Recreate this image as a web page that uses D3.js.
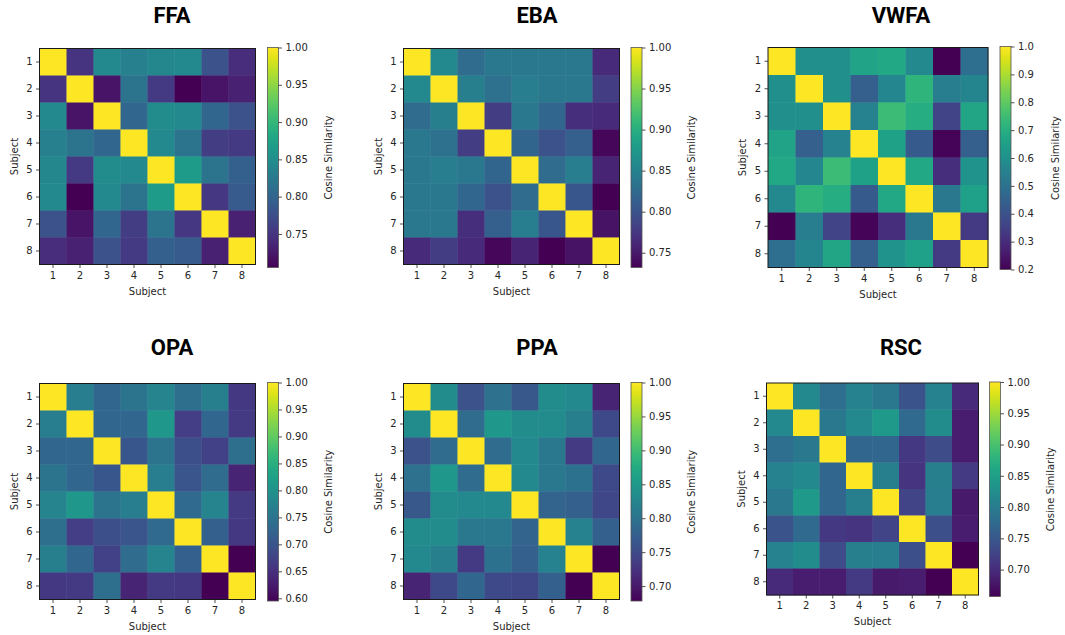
<html>

<head>
    <title>Cosine Similarity per ROI</title>
    <style>
        body { margin: 0; background: #ffffff; }
    </style>
</head>

<body>
    <div id="my_dataviz"></div>
</body>

<!-- Load d3.js -->
<script src="https://d3js.org/d3.v7.min.js"></script>

<script>

    // subjects on both axes
    var subjects = ["1", "2", "3", "4", "5", "6", "7", "8"];

    // region names (one panel each)
    var regions = ["FFA", "EBA", "VWFA", "OPA", "PPA", "RSC"];

    // similarity matrices
    var ffaValues = [
        [1.000, 0.749, 0.844, 0.832, 0.841, 0.844, 0.779, 0.743],
        [0.749, 1.000, 0.720, 0.817, 0.755, 0.705, 0.720, 0.732],
        [0.844, 0.720, 1.000, 0.802, 0.847, 0.844, 0.802, 0.779],
        [0.832, 0.817, 0.802, 1.000, 0.844, 0.817, 0.758, 0.755],
        [0.841, 0.755, 0.847, 0.844, 1.000, 0.867, 0.817, 0.794],
        [0.844, 0.705, 0.844, 0.817, 0.867, 1.000, 0.752, 0.788],
        [0.779, 0.720, 0.802, 0.758, 0.817, 0.752, 1.000, 0.732],
        [0.743, 0.732, 0.779, 0.755, 0.794, 0.788, 0.732, 1.000]
    ];
    var ebaValues = [
        [1.000, 0.858, 0.826, 0.839, 0.839, 0.839, 0.839, 0.764],
        [0.858, 1.000, 0.847, 0.831, 0.845, 0.839, 0.839, 0.780],
        [0.826, 0.847, 1.000, 0.780, 0.839, 0.820, 0.767, 0.764],
        [0.839, 0.831, 0.780, 1.000, 0.818, 0.799, 0.812, 0.737],
        [0.839, 0.845, 0.839, 0.818, 1.000, 0.826, 0.845, 0.759],
        [0.839, 0.839, 0.820, 0.799, 0.826, 1.000, 0.804, 0.732],
        [0.839, 0.839, 0.767, 0.812, 0.845, 0.804, 1.000, 0.745],
        [0.764, 0.780, 0.764, 0.737, 0.759, 0.732, 0.745, 1.000]
    ];
    var vwfaValues = [
        [1.000, 0.600, 0.600, 0.664, 0.680, 0.576, 0.200, 0.485],
        [0.600, 1.000, 0.600, 0.440, 0.568, 0.720, 0.536, 0.565],
        [0.600, 0.600, 1.000, 0.552, 0.744, 0.696, 0.360, 0.670],
        [0.664, 0.440, 0.552, 1.000, 0.656, 0.424, 0.208, 0.440],
        [0.680, 0.568, 0.744, 0.656, 1.000, 0.680, 0.304, 0.610],
        [0.576, 0.720, 0.696, 0.424, 0.680, 1.000, 0.520, 0.650],
        [0.200, 0.536, 0.360, 0.208, 0.304, 0.520, 1.000, 0.336],
        [0.485, 0.565, 0.670, 0.440, 0.610, 0.650, 0.336, 1.000]
    ];
    var opaValues = [
        [1.000, 0.765, 0.729, 0.749, 0.777, 0.741, 0.769, 0.660],
        [0.765, 1.000, 0.729, 0.729, 0.810, 0.668, 0.729, 0.664],
        [0.729, 0.729, 1.000, 0.704, 0.749, 0.692, 0.672, 0.741],
        [0.749, 0.729, 0.704, 1.000, 0.765, 0.700, 0.737, 0.635],
        [0.777, 0.810, 0.749, 0.765, 1.000, 0.733, 0.777, 0.664],
        [0.741, 0.668, 0.692, 0.700, 0.733, 1.000, 0.717, 0.660],
        [0.769, 0.729, 0.672, 0.737, 0.777, 0.717, 1.000, 0.595],
        [0.660, 0.664, 0.741, 0.635, 0.664, 0.660, 0.595, 1.000]
    ];
    var ppaValues = [
        [1.000, 0.833, 0.759, 0.797, 0.765, 0.833, 0.829, 0.710],
        [0.833, 1.000, 0.791, 0.849, 0.833, 0.833, 0.816, 0.749],
        [0.759, 0.791, 1.000, 0.791, 0.829, 0.807, 0.733, 0.784],
        [0.797, 0.849, 0.791, 1.000, 0.829, 0.807, 0.800, 0.749],
        [0.765, 0.833, 0.829, 0.829, 1.000, 0.781, 0.775, 0.746],
        [0.833, 0.833, 0.807, 0.807, 0.781, 1.000, 0.820, 0.775],
        [0.829, 0.816, 0.733, 0.800, 0.775, 0.820, 1.000, 0.678],
        [0.710, 0.749, 0.784, 0.749, 0.746, 0.775, 0.678, 1.000]
    ];
    var rscValues = [
        [1.000, 0.818, 0.780, 0.808, 0.794, 0.745, 0.808, 0.698],
        [0.818, 1.000, 0.794, 0.818, 0.842, 0.774, 0.822, 0.684],
        [0.780, 0.794, 1.000, 0.770, 0.770, 0.712, 0.736, 0.684],
        [0.808, 0.818, 0.770, 1.000, 0.804, 0.708, 0.804, 0.715],
        [0.794, 0.842, 0.770, 0.804, 1.000, 0.726, 0.801, 0.681],
        [0.745, 0.774, 0.712, 0.708, 0.726, 1.000, 0.739, 0.684],
        [0.808, 0.822, 0.736, 0.804, 0.801, 0.739, 1.000, 0.657],
        [0.698, 0.684, 0.684, 0.715, 0.681, 0.684, 0.657, 1.000]
    ];

    // colorbar tick values
    var ffaTicks = [0.75, 0.80, 0.85, 0.90, 0.95, 1.00];
    var ebaTicks = [0.75, 0.80, 0.85, 0.90, 0.95, 1.00];
    var vwfaTicks = [0.2, 0.3, 0.4, 0.5, 0.6, 0.7, 0.8, 0.9, 1.0];
    var opaTicks = [0.60, 0.65, 0.70, 0.75, 0.80, 0.85, 0.90, 0.95, 1.00];
    var ppaTicks = [0.70, 0.75, 0.80, 0.85, 0.90, 0.95, 1.00];
    var rscTicks = [0.70, 0.75, 0.80, 0.85, 0.90, 0.95, 1.00];

    var allValues = [ffaValues, ebaValues, vwfaValues, opaValues, ppaValues, rscValues];
    var allTicks = [ffaTicks, ebaTicks, vwfaTicks, opaTicks, ppaTicks, rscTicks];
    var tickFormats = [".2f", ".2f", ".1f", ".2f", ".2f", ".2f"];

    // where each panel sits on the page
    var layout = [
        { x: 39.5, y: 48.5, size: 216, cbX: 267.5, cbTop: 47.5, cbBottom: 267.5, titleX: 172, titleY: 23 },
        { x: 403.5, y: 48.5, size: 216, cbX: 631, cbTop: 47.5, cbBottom: 267.5, titleX: 537, titleY: 23 },
        { x: 768, y: 47.5, size: 220, cbX: 1000, cbTop: 46.5, cbBottom: 269.5, titleX: 901, titleY: 23 },
        { x: 39.5, y: 383.5, size: 216, cbX: 267.5, cbTop: 382.5, cbBottom: 601, titleX: 172, titleY: 355 },
        { x: 403.5, y: 383.5, size: 216, cbX: 631, cbTop: 382.5, cbBottom: 601, titleX: 537, titleY: 355 },
        { x: 766.5, y: 383, size: 212, cbX: 989.5, cbTop: 382, cbBottom: 596.5, titleX: 901, titleY: 355 }
    ];
    var cbWidth = 11;
    var textColor = "#262626";
    var tickFont = "'DejaVu Sans', sans-serif";

    var svg = d3.select("#my_dataviz")
        .append("svg")
        .attr("width", 1065)
        .attr("height", 635)
        .style("display", "block");

    // shared viridis gradient for the colorbars
    var defs = svg.append("defs");
    var grad = defs.append("linearGradient")
        .attr("id", "viridisGrad")
        .attr("x1", "0%").attr("y1", "100%")
        .attr("x2", "0%").attr("y2", "0%");
    d3.range(0, 1.0001, 0.05).forEach(function (t) {
        grad.append("stop")
            .attr("offset", (t * 100) + "%")
            .attr("stop-color", d3.interpolateViridis(t));
    });

    regions.forEach(function (name, i) {
        var values = allValues[i];
        var L = layout[i];
        var vmin = d3.min(values, function (row) { return d3.min(row); });

        var color = d3.scaleSequential(d3.interpolateViridis).domain([vmin, 1]);

        var x = d3.scaleBand().domain(subjects).range([0, L.size]);
        var y = d3.scaleBand().domain(subjects).range([0, L.size]);

        var g = svg.append("g")
            .attr("transform", "translate(" + L.x + "," + L.y + ")");

        // cells
        var cells = [];
        values.forEach(function (row, r) {
            row.forEach(function (v, c) {
                cells.push({ row: subjects[r], col: subjects[c], value: v });
            });
        });
        g.append("g")
            .selectAll("rect")
            .data(cells)
            .enter()
            .append("rect")
            .attr("x", function (d) { return x(d.col); })
            .attr("y", function (d) { return y(d.row); })
            .attr("width", x.bandwidth() + 0.4)
            .attr("height", y.bandwidth() + 0.4)
            .attr("fill", function (d) { return color(d.value); });

        // frame
        g.append("rect")
            .attr("width", L.size)
            .attr("height", L.size)
            .attr("fill", "none")
            .attr("stroke", "#1a1a1a")
            .attr("stroke-width", 1);

        // axes
        var xAxis = g.append("g")
            .attr("transform", "translate(0," + L.size + ")")
            .call(d3.axisBottom(x).tickSize(3.5).tickPadding(3.5));
        var yAxis = g.append("g")
            .call(d3.axisLeft(y).tickSize(3.5).tickPadding(3.5));
        [xAxis, yAxis].forEach(function (a) {
            a.select(".domain").remove();
            a.selectAll("line").attr("stroke", textColor).attr("stroke-width", 0.8);
            a.selectAll("text")
                .attr("fill", textColor)
                .style("font-family", tickFont)
                .style("font-size", "10px");
        });

        // axis labels
        g.append("text")
            .attr("x", L.size / 2)
            .attr("y", L.size + 30)
            .attr("text-anchor", "middle")
            .attr("fill", textColor)
            .style("font-family", tickFont)
            .style("font-size", "10px")
            .text("Subject");
        g.append("text")
            .attr("transform", "rotate(-90)")
            .attr("x", -L.size / 2)
            .attr("y", -22)
            .attr("text-anchor", "middle")
            .attr("fill", textColor)
            .style("font-family", tickFont)
            .style("font-size", "10px")
            .text("Subject");

        // colorbar
        var cb = svg.append("g")
            .attr("transform", "translate(" + L.cbX + ",0)");
        cb.append("rect")
            .attr("x", 0)
            .attr("y", L.cbTop)
            .attr("width", cbWidth)
            .attr("height", L.cbBottom - L.cbTop)
            .attr("fill", "url(#viridisGrad)")
            .attr("stroke", "#555")
            .attr("stroke-width", 0.8);

        var cbScale = d3.scaleLinear().domain([vmin, 1]).range([L.cbBottom, L.cbTop]);
        var cbAxis = cb.append("g")
            .attr("transform", "translate(" + cbWidth + ",0)")
            .call(d3.axisRight(cbScale)
                .tickValues(allTicks[i])
                .tickFormat(d3.format(tickFormats[i]))
                .tickSize(3.5)
                .tickPadding(3.5));
        cbAxis.select(".domain").remove();
        cbAxis.selectAll("line").attr("stroke", textColor).attr("stroke-width", 0.8);
        cbAxis.selectAll("text")
            .attr("fill", textColor)
            .style("font-family", tickFont)
            .style("font-size", "10px");

        // label sits closer when the tick labels are shorter
        var labelGap = tickFormats[i] == ".1f" ? 48 : 53;
        cb.append("text")
            .attr("transform", "rotate(-90)")
            .attr("x", -(L.cbTop + L.cbBottom) / 2)
            .attr("y", cbWidth + labelGap)
            .attr("text-anchor", "middle")
            .attr("fill", textColor)
            .style("font-family", tickFont)
            .style("font-size", "10px")
            .text("Cosine Similarity");

        // title
        svg.append("text")
            .attr("x", L.titleX)
            .attr("y", L.titleY)
            .attr("text-anchor", "middle")
            .attr("fill", "#000")
            .style("font-family", "Roboto, sans-serif")
            .style("font-weight", "bold")
            .style("font-size", "22px")
            .text(name);
    });

</script>

</html>
